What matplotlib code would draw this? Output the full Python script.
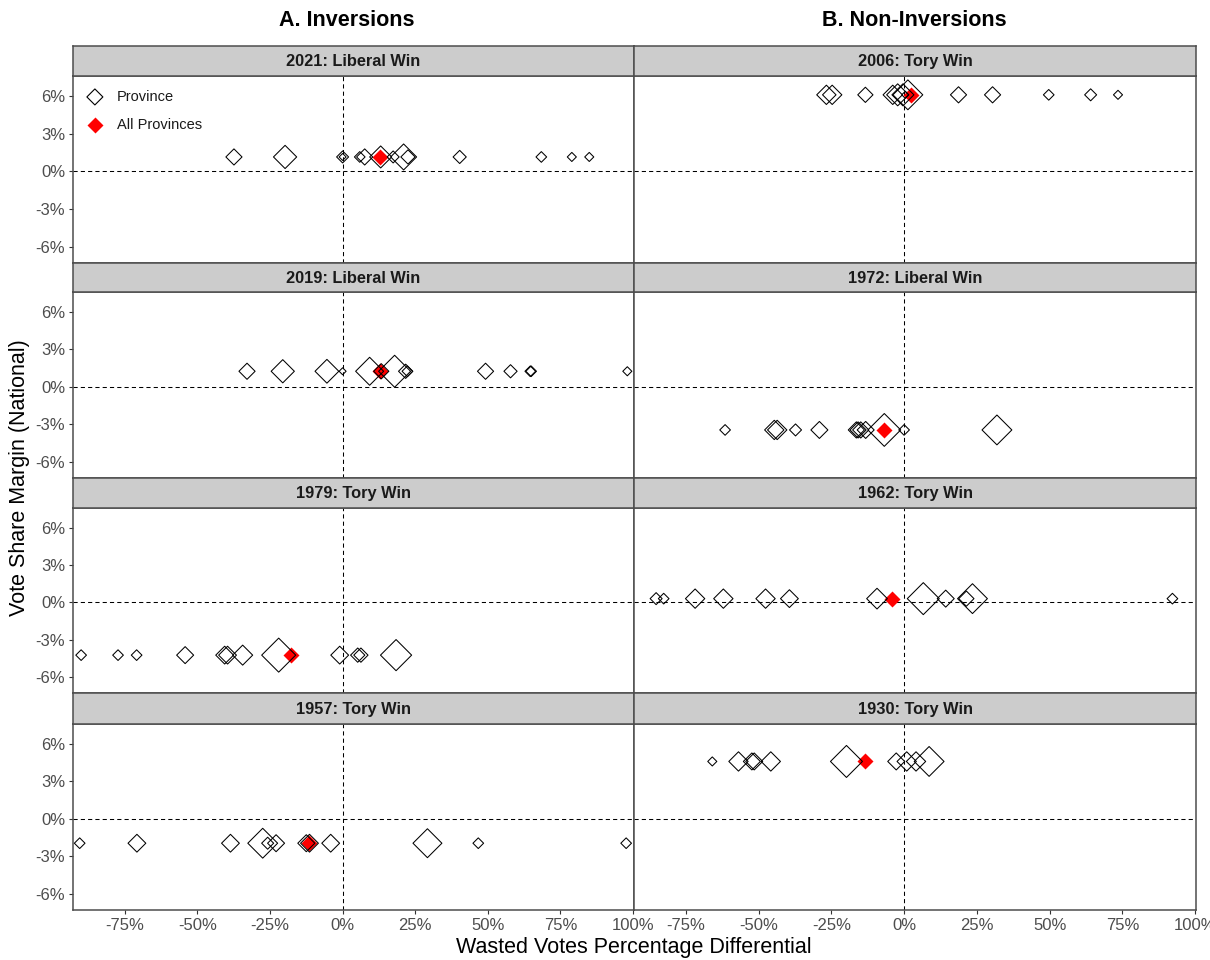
import numpy as np
import matplotlib
matplotlib.use("Agg")
import matplotlib.pyplot as plt

plt.rcParams['font.family'] = ['Liberation Sans', 'DejaVu Sans']

# ---- data -------------------------------------------------------------
# left column: inversions, right column: non-inversions
labels_a = ['2021: Liberal Win', '2019: Liberal Win', '1979: Tory Win', '1957: Tory Win']
labels_b = ['2006: Tory Win', '1972: Liberal Win', '1962: Tory Win', '1930: Tory Win']

# national vote share margin (%)
margin_2021 = 1.15
margin_2019 = 1.25
margin_1979 = -4.25
margin_1957 = -1.95
margin_2006 = 6.1
margin_1972 = -3.45
margin_1962 = 0.3
margin_1930 = 4.6

# wasted votes percentage differential by province (%), and province weight
wasted_2021 = [-37.4, -19.8, 0.0, 0.0, 5.9, 7.6, 13.1, 17.4, 21.0, 22.5, 40.3, 68.4, 78.9, 84.9]
weight_2021 = [8, 18, 4, 1, 3, 8, 16, 4, 23, 6, 5, 3, 2, 2]

wasted_2019 = [-32.9, -20.6, -5.4, 0.0, 9.3, 13.3, 17.9, 21.7, 22.3, 49.2, 57.8, 64.6, 64.9, 98.0]
weight_2019 = [8, 18, 19, 1, 27, 7, 36, 6, 3, 8, 5, 3, 3, 2]

wasted_1979 = [-90.0, -77.3, -70.9, -54.2, -40.6, -39.6, -34.4, -22.0, -1.0, 5.2, 6.3, 18.4]
weight_1979 = [3, 3, 3, 9, 10, 10, 13, 41, 10, 6, 6, 34]

wasted_1957 = [-90.5, -70.8, -38.6, -27.5, -25.8, -22.9, -12.5, -11.4, -4.1, 29.2, 46.7, 97.6]
weight_1957 = [3, 10, 10, 31, 4, 9, 9, 10, 10, 29, 3, 3]

wasted_2006 = [-26.7, -24.7, -13.3, -3.9, -2.2, -0.4, 0.4, 1.3, 18.7, 30.4, 49.7, 64.1, 73.5]
weight_2006 = [12, 12, 7, 12, 16, 16, 1, 31, 8, 8, 3, 4, 2]

wasted_1972 = [-61.5, -44.6, -43.6, -37.3, -29.1, -16.4, -15.8, -14.9, -13.2, -6.8, 0.0, 31.9]
weight_1972 = [3, 12, 12, 4, 9, 8, 8, 8, 9, 38, 3, 31]

wasted_1962 = [-85.2, -82.6, -71.8, -62.1, -47.6, -39.4, -9.3, 6.6, 14.3, 21.4, 23.5, 92.2]
weight_1962 = [4, 3, 12, 12, 12, 10, 14, 36, 9, 7, 31, 3]

wasted_1930 = [-65.9, -56.9, -52.3, -51.5, -45.8, -19.8, -2.7, 0.9, 4.1, 8.6]
weight_1930 = [2, 12, 9, 9, 12, 36, 9, 12, 12, 31]

# all provinces combined
overall_a = [12.8, 12.8, -17.8, -11.7]
overall_b = [2.4, -6.8, -4.3, -13.5]

margins_a = [margin_2021, margin_2019, margin_1979, margin_1957]
margins_b = [margin_2006, margin_1972, margin_1962, margin_1930]
wasted_a = [wasted_2021, wasted_2019, wasted_1979, wasted_1957]
wasted_b = [wasted_2006, wasted_1972, wasted_1962, wasted_1930]
weights_a = [weight_2021, weight_2019, weight_1979, weight_1957]
weights_b = [weight_2006, weight_1972, weight_1962, weight_1930]

x_ticks = [-75, -50, -25, 0, 25, 50, 75, 100]
y_ticks = [-6, -3, 0, 3, 6]

# ---- layout -----------------------------------------------------------
W, H = 1210, 960
fig = plt.figure(figsize=(W / 100, H / 100), dpi=100)

cols = [(73, 634), (634, 1196)]
# (strip top, panel top, panel bottom) in pixels
rows = [(46, 76, 263), (263, 292, 478), (478, 508, 693), (693, 724, 910)]

border = '#4d4d4d'
px_per_pt = 100 / 72


def diamond_area(weight):
    # area of a 'D' marker; tip-to-tip width grows with sqrt(weight) from a minimum
    width_px = 2.0 + 5.0 * np.sqrt(np.asarray(weight, dtype=float))
    ms = width_px / (np.sqrt(2) * px_per_pt)
    return ms ** 2


red_area = (16 / (np.sqrt(2) * px_per_pt)) ** 2

for c, (labels, margins, wasted, weights, overall) in enumerate([
        (labels_a, margins_a, wasted_a, weights_a, overall_a),
        (labels_b, margins_b, wasted_b, weights_b, overall_b)]):
    x0, x1 = cols[c]
    for r in range(4):
        s_top, p_top, p_bot = rows[r]
        ax = fig.add_axes([x0 / W, 1 - p_bot / H, (x1 - x0) / W, (p_bot - p_top) / H])
        sax = fig.add_axes([x0 / W, 1 - p_top / H, (x1 - x0) / W, (p_top - s_top) / H])

        sax.set_facecolor('#cccccc')
        sax.set_xticks([])
        sax.set_yticks([])
        for sp in sax.spines.values():
            sp.set_color(border)
            sp.set_linewidth(1.1)
        sax.text(0.5, 0.48, labels[r], transform=sax.transAxes, ha='center', va='center',
                 fontsize=11.8, fontweight='bold', color='#1a1a1a')

        ax.axvline(0, color='black', lw=0.75, ls=(0, (4, 3)), zorder=1)
        ax.axhline(0, color='black', lw=0.75, ls=(0, (4, 3)), zorder=1)

        ys = np.full(len(wasted[r]), margins[r])
        ax.scatter([overall[r]], [margins[r]], marker='D', s=red_area, color='red',
                   linewidths=0, zorder=2)
        ax.scatter(wasted[r], ys, marker='D', s=diamond_area(weights[r]),
                   facecolors='none', edgecolors='black', linewidths=0.75, zorder=3)

        ax.set_xlim(-92.8, 100.3)
        ax.set_ylim(-7.3, 7.6)
        ax.set_xticks(x_ticks)
        ax.set_yticks(y_ticks)
        ax.set_xticklabels([f'{t}%' for t in x_ticks])
        ax.set_yticklabels([f'{t}%' for t in y_ticks])
        ax.tick_params(colors='#333333', labelcolor='#4d4d4d', labelsize=12,
                       length=3, width=0.8, pad=2.5)
        ax.tick_params(left=(c == 0), labelleft=(c == 0),
                       bottom=(r == 3), labelbottom=(r == 3))
        for sp in ax.spines.values():
            sp.set_color(border)
            sp.set_linewidth(1.1)

        if c == 0 and r == 0:
            ax.scatter([0.039], [0.888], marker='D', s=red_area, facecolors='none',
                       edgecolors='black', linewidths=0.8, transform=ax.transAxes)
            ax.scatter([0.039], [0.738], marker='D', s=red_area, color='red',
                       linewidths=0, transform=ax.transAxes)
            ax.text(0.078, 0.888, 'Province', transform=ax.transAxes, va='center',
                    fontsize=10.5, color='#1a1a1a')
            ax.text(0.078, 0.738, 'All Provinces', transform=ax.transAxes, va='center',
                    fontsize=10.5, color='#1a1a1a')

fig.text(347 / W, 1 - 20 / H, 'A. Inversions', ha='center', va='center',
         fontsize=15.5, fontweight='bold')
fig.text(914 / W, 1 - 20 / H, 'B. Non-Inversions', ha='center', va='center',
         fontsize=15.5, fontweight='bold')
fig.text(634 / W, 1 - 948 / H, 'Wasted Votes Percentage Differential', ha='center',
         va='center', fontsize=15.5)
fig.text(20 / W, 1 - 478 / H, 'Vote Share Margin (National)', ha='center', va='center',
         rotation=90, fontsize=15.5)

fig.savefig('out.png', dpi=100)
